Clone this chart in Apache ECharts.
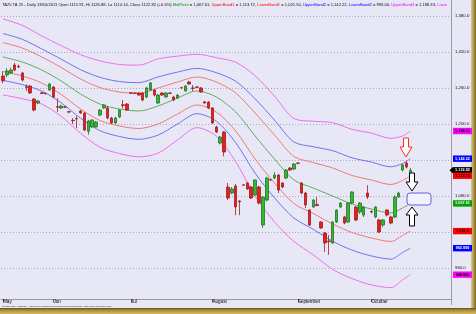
<!DOCTYPE html>
<html><head><meta charset="utf-8">
<script src="https://cdn.jsdelivr.net/npm/echarts/dist/echarts.min.js"></script>
<style>html,body{margin:0;padding:0;background:#E7E7F6;}#c{width:476px;height:314px;}</style>
</head><body><div id="c"></div><script>
// ---- data ----
const monthNames = ['May','Jun','Jul','August','September','October'];
const monthStart = [0,13,33,54,76,95];
const slotCount = 116;
const yTicks = {min: 900, max: 1390, interval: 60};

const openP = [1280,1281.7,1285,1298.3,1296,1285,1262,1263.3,1241.7,1235,1252,1251,1256.7,1261.7,1229,1226.7,1228.5,1220.5,1206,1209,
1221.7,1218.3,1188,1195,1195,1215,1226.7,1226.7,1210,1201.7,1211.7,1232,1233.3,1252,1251.7,1251.7,1251.7,1245,1256.7,1256.7,
1235,1251.7,1245,1251.7,1245,1243.3,1260.5,1255,1270,1260,1261.7,1260,1237,1236.7,1226.7,1195,1168.3,1186.7,1095,1085,
1096.7,1071.7,1098.5,1101.7,1095,1081.7,1095,1031.7,1073.3,1107,1110,1115,1101.7,1110,1126.7,1125,1135,1101.7,1085,1056.7,
1061.7,1066,1036.7,1018.3,1005,1001.7,1036.7,1061.7,1045,1036.7,1068.3,1061.7,1053.3,1048.3,1085,1054,1045,1040,1031.7,1056.7,
1045,1045,1078.3,1123.3,1135,1115.91];
const closeP = [1272,1288.3,1290,1290,1295,1273.3,1261,1251.7,1223.3,1238.3,1251,1250.5,1266.7,1245,1228,1230,1228,1220,1205.5,1208.5,
1218.3,1190,1205,1206.7,1203.3,1223.3,1231.7,1210,1201.7,1210,1223.3,1231,1223.3,1251.5,1251,1248.3,1240,1260,1268.3,1248.3,
1248.3,1248.3,1251.7,1251,1240,1248.3,1260,1263.3,1266.7,1259.5,1261.2,1253.3,1235,1226.7,1201.7,1186.7,1178.3,1153.3,1076.7,1091.7,
1061.7,1070,1098,1091.7,1076.7,1106.7,1068.3,1078.3,1110,1106.7,1115,1090,1095,1123.3,1123.3,1133.3,1134.5,1085,1065,1031.7,
1073.3,1064,1026.7,1001.7,1004,1036.7,1056.7,1068.3,1035,1068.3,1086.7,1040,1068.3,1061.7,1078.3,1053.3,1061.7,1020,1040,1048.3,
1035,1078.3,1085,1131.7,1128.3,1122.82];
const lowP = [1268,1278,1283,1288,1293,1271,1255,1250,1221,1233,1250,1249,1255,1243,1220,1225,1227,1218,1200,1193,
1217,1188,1182,1193,1194,1213,1225,1208,1200,1200,1210,1226,1222,1250,1250,1247,1238,1243,1255,1246,
1233,1247,1244,1250,1238,1242,1259,1254,1265,1255,1260,1252,1234,1225,1200,1185,1166,1146,1073,1083,
1048,1048,1097,1090,1075,1080,1066,1026.7,1071,1105,1108,1085,1093,1108,1122,1123,1133,1083,1060,1030,
1060,1063,1025,986.7,982,1000,1035,1060,1033,1035,1066,1038,1050,1045,1075,1051,1043,1018,1028,1046,
1033,1043,1077,1121,1126,1114.14];
const highP = [1288,1293,1294,1301.7,1299,1287,1266,1265,1243,1240,1253,1252,1268,1263,1243,1232,1230,1222,1210,1213,
1223,1220,1207,1208,1205,1225,1233,1230,1212,1212,1225,1240,1235,1253,1253,1253,1253,1262,1270,1258,
1250,1253,1253,1253,1247,1250,1262,1265,1272,1265,1263,1262,1238,1238,1228,1197,1180,1188,1101.7,1095,
1100,1073,1100,1103,1097,1108,1097,1080,1112,1108,1120,1117,1103,1125,1128,1135,1136,1103,1087,1058,
1075,1078,1038,1020,1015,1038,1058,1070,1047,1070,1088,1063,1070,1063,1098,1056,1063,1042,1042,1058,
1047,1081,1087,1134,1138,1126.88];

const bandIdx = [0,5,10,15,20,25,30,35,40,45,50,55,60,65,70,75,80,85,90,95,100,103,105];
const midPoint = [1311.7,1303.3,1290.0,1271.7,1250.0,1233.3,1225.0,1221.7,1230.0,1243.3,1255.0,1245.0,1220.0,1180.0,1141.7,1106.7,1093.3,1080.0,1066.7,1058.3,1051.7,1060.0,1067.61];
const upperBand1 = [1335.8,1326.6,1311.7,1294.2,1275.0,1260.8,1253.3,1250.9,1260.0,1270.0,1278.3,1270.0,1251.7,1218.3,1181.7,1145.9,1135.8,1126.7,1114.2,1106.6,1099.2,1105.8,1113.72];
const lowerBand1 = [1287.5,1280.0,1268.3,1249.2,1225.0,1205.8,1196.7,1192.5,1200.0,1216.6,1231.7,1220.0,1188.3,1141.7,1101.7,1067.5,1050.8,1033.3,1019.2,1010.0,1004.2,1014.2,1021.50];
const upperBand2 = [1350.8,1341.1,1325.1,1308.1,1290.5,1277.8,1270.8,1268.9,1278.5,1286.5,1292.8,1285.5,1271.2,1242.0,1206.4,1170.1,1162.1,1155.5,1143.6,1136.5,1128.6,1134.2,1142.22];
const lowerBand2 = [1272.6,1265.6,1254.9,1235.3,1209.6,1188.8,1179.2,1174.5,1181.5,1200.1,1217.3,1204.6,1168.8,1118.0,1077.0,1043.3,1024.5,1004.5,989.8,980.1,974.8,985.8,993.00];
const upperBand3 = [1375.0,1364.4,1346.7,1330.6,1315.5,1305.3,1299.2,1298.1,1308.5,1313.1,1316.1,1310.5,1302.9,1280.4,1246.4,1209.2,1204.6,1202.2,1191.1,1184.8,1176.1,1180.0,1188.33];
const lowerBand3 = [1248.4,1242.2,1233.3,1212.8,1184.6,1161.3,1150.8,1145.3,1151.5,1173.5,1193.9,1179.6,1137.1,1079.6,1037.0,1004.2,982.0,957.8,942.3,931.8,927.3,940.0,948.89];

const badgeText = ['1,188.33','1,142.22','1,122.82','1,113.72','1,067.61','1,021.5','992.999','948.888'];
const titleParts = [
  ['k','TA25 TA 25 - Daily 18/10/2011 Open 1115.91, Hi 1126.88, Lo 1114.14, Close 1122.82 (+0.6%) '],
  ['g','MidPoint'],['k',' = 1,067.61, '],
  ['r','UpperBand1'],['k',' = 1,113.72, '],
  ['r','LowerBand1'],['k',' = 1,021.50, '],
  ['b','UpperBand2'],['k',' = 1,142.22, '],
  ['b','LowerBand2'],['k',' = 993.00, '],
  ['m','UpperBand3'],['k',' = 1,188.33, '],
  ['m','Lowe']
];
const footerText = 'Created with AmiBroker - advanced charting and technical analysis software. http://www.amibroker.com';

// ---- chart ----
const FONT = 'Liberation Sans, Arial, sans-serif';
const chart = echarts.init(document.getElementById('c'));
const categories = Array.from({length: slotCount}, (_, i) => String(i));
const candles = openP.map((o, i) => [o, closeP[i], lowP[i], highP[i]]);
const pts = arr => bandIdx.map((x, k) => [x, arr[k]]);
const band = (name, arr, color) => ({
  name, type: 'line', data: pts(arr), showSymbol: false, smooth: 0.3,
  lineStyle: {color, width: 1}, z: 3, silent: true
});
const isMonth = i => monthStart.indexOf(i) >= 0;

chart.setOption({
  animation: false,
  backgroundColor: '#E7E7F6',
  grid: {left: 0, right: 25, top: 10, bottom: 10, containLabel: false},
  xAxis: {
    type: 'category', data: categories, boundaryGap: true, offset: -5,
    axisLine: {show: true, lineStyle: {color: '#9a9aa6', width: 1}},
    axisTick: {show: true, interval: (i) => isMonth(i), alignWithLabel: true, length: 3, lineStyle: {color: '#555'}},
    axisLabel: {interval: (i) => isMonth(i), align: 'left', fontSize: 4.6, color: '#000', margin: 0.5, fontFamily: FONT,
      formatter: (v, i) => { const k = monthStart.indexOf(i); return k >= 0 ? monthNames[k] : ''; }},
    splitLine: {show: false}
  },
  yAxis: {
    type: 'value', position: 'right', min: yTicks.min, max: yTicks.max, interval: yTicks.interval,
    axisLine: {show: false}, axisTick: {show: false},
    axisLabel: {fontSize: 4.3, color: '#111', margin: 4, fontFamily: FONT, showMaxLabel: false, showMinLabel: false,
      formatter: v => ((v - yTicks.min) % yTicks.interval !== 0) ? '' : v.toLocaleString('en-US', {minimumFractionDigits: 1, maximumFractionDigits: 1})},
    splitLine: {show: true, showMinLine: false, showMaxLine: false, lineStyle: {color: '#a8a8b8', type: [1, 2], width: 1}}
  },
  series: [
    band('UpperBand3', upperBand3, '#EE70EE'),
    band('UpperBand2', upperBand2, '#7272EE'),
    band('UpperBand1', upperBand1, '#EE7A7A'),
    band('MidPoint', midPoint, '#5CB05C'),
    band('LowerBand1', lowerBand1, '#EE7A7A'),
    band('LowerBand2', lowerBand2, '#7272EE'),
    band('LowerBand3', lowerBand3, '#EE70EE'),
    {
      name: 'TA25', type: 'candlestick', data: candles, barWidth: 3, z: 5,
      itemStyle: {color: '#2EBB2E', color0: '#EE1C1C', borderColor: '#2a6e2a', borderColor0: '#9a2020', borderWidth: 0.8}
    }
  ]
});

// ---- overlays ----
const g = [];
const TS = 4.1;
const rich = {
  k: {fill: '#111', fontSize: TS, fontFamily: FONT},
  g: {fill: '#00A000', fontSize: TS, fontFamily: FONT},
  r: {fill: '#FF0000', fontSize: TS, fontFamily: FONT},
  b: {fill: '#0000FF', fontSize: TS, fontFamily: FONT},
  m: {fill: '#FF00FF', fontSize: TS, fontFamily: FONT}
};
g.push({type: 'text', x: 2, y: 3, z: 50, style: {text: titleParts.map(p => '{' + p[0] + '|' + p[1] + '}').join(''), rich, fontSize: TS, fontFamily: FONT}});
g.push({type: 'text', x: 2, y: 305.3, z: 50, style: {text: footerText, fill: '#333', fontSize: 2.4, fontFamily: FONT}});
// right axis line
g.push({type: 'line', z: 40, shape: {x1: 451.5, y1: 0, x2: 451.5, y2: 305}, style: {stroke: '#9a9aa6', lineWidth: 1}});
// frame shadow
g.push({type: 'rect', z: 60, shape: {x: 471, y: 0, width: 5, height: 314},
  style: {fill: new echarts.graphic.LinearGradient(0, 0, 1, 0, [{offset: 0, color: '#D8CC98'}, {offset: 0.5, color: '#B49A48'}, {offset: 1, color: '#7A6628'}])}});
g.push({type: 'rect', z: 61, shape: {x: 0, y: 308, width: 476, height: 6},
  style: {fill: new echarts.graphic.LinearGradient(0, 0, 0, 1, [{offset: 0, color: '#5C4E1E'}, {offset: 0.35, color: '#A88C38'}, {offset: 1, color: '#D6BC62'}])}});

// value badges on the price axis
const last = a => a[a.length - 1];
const badges = [
  [last(upperBand3), '#FF00FF', '#000'],
  [last(upperBand2), '#0000FF', '#fff'],
  [last(closeP), '#000000', '#fff'],
  [last(upperBand1), '#FF0000', '#000'],
  [last(midPoint), '#00A000', '#fff'],
  [last(lowerBand1), '#FF0000', '#000'],
  [last(lowerBand2), '#0000FF', '#fff'],
  [last(lowerBand3), '#FF00FF', '#000']
];
badges.forEach((b, k) => {
  const y = chart.convertToPixel({yAxisIndex: 0}, b[0]);
  if (k === 2) g.push({type: 'polygon', z: 70, shape: {points: [[449.5, y], [453, y - 3.2], [453, y + 3.2]]}, style: {fill: '#000'}});
  g.push({type: 'rect', z: 70, shape: {x: 453, y: y - 3.2, width: 19, height: 6.4}, style: {fill: b[1]}});
  g.push({type: 'text', z: 71, x: 462.5, y: y, style: {text: badgeText[k], fill: b[2], fontSize: 3.8, fontWeight: 'bold', fontFamily: FONT, align: 'center', verticalAlign: 'middle'}});
});

// hand-drawn annotations
g.push({type: 'polygon', z: 30, shape: {points: [[403.5, 138], [408.5, 138], [408.5, 147], [412, 147], [406, 157], [400, 147], [403.5, 147]]},
  style: {fill: '#ffffff', stroke: '#FF2a2a', lineWidth: 1}});
g.push({type: 'polygon', z: 30, shape: {points: [[409.5, 173], [414.5, 173], [414.5, 182], [418, 182], [412, 191], [406, 182], [409.5, 182]]},
  style: {fill: '#ffffff', stroke: '#000', lineWidth: 1}});
g.push({type: 'polygon', z: 30, shape: {points: [[412, 207], [418, 215], [414.5, 215], [414.5, 226], [409.5, 226], [409.5, 215], [406, 215]]},
  style: {fill: '#ffffff', stroke: '#000', lineWidth: 1}});
g.push({type: 'rect', z: 30, shape: {x: 407, y: 193, width: 24, height: 12, r: 3},
  style: {fill: '#F2F2FF', stroke: '#6060D8', lineWidth: 1}});

chart.setOption({graphic: g});
</script></body></html>
